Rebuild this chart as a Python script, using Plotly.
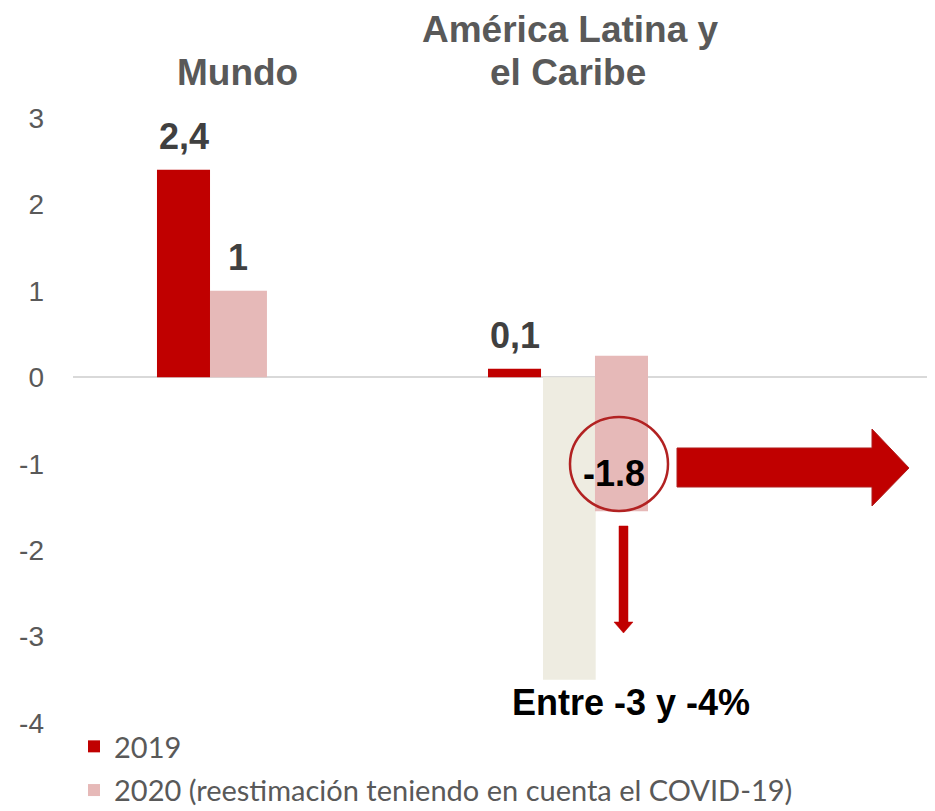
import plotly.graph_objects as go

# ---------------- data ----------------
categories = ["Mundo", "América Latina y el Caribe"]
header_lines = [["Mundo"], ["América Latina y", "el Caribe"]]
series_names = ["2019", "2020 (reestimación teniendo en cuenta el COVID-19)"]
values_2019 = [2.4, 0.1]
values_2020 = [1.0, -1.8]
base_2020 = [0.0, 0.25]
range_category = ["América Latina y el Caribe"]
range_value = [-3.5]
range_label = "Entre -3 y -4%"
y_ticks = [3, 2, 1, 0, -1, -2, -3, -4]

# ---------------- style / layout ----------------
OFF = 8                      # default page (body) margin of the html page
PAGE_W, PAGE_H = 935, 811
PLOT_L, PLOT_R, PLOT_T, PLOT_B = 73, 935, 118, 723   # plot area in page pixels
W, H = PAGE_W - OFF, PAGE_H - OFF
ML, MT = PLOT_L - OFF, PLOT_T - OFF
MR, MB = W - (PLOT_R - OFF), H - (PLOT_B - OFF)
PW, PH = PLOT_R - PLOT_L, PLOT_B - PLOT_T
XR = [-0.3904, -0.3904 + PW / 356.0]
YR = [-4, 3]

RED = "#C00000"
PINK = "#E6B9B8"
BEIGE = "#EEECE1"
FONT = "Arial, Liberation Sans, sans-serif"

off_2019, w_2019 = [-0.1545, -0.2247], [0.149, 0.149]
off_2020, w_2020 = [-0.0056, 0.0758], [0.160, 0.149]
off_rng, w_rng = [-0.0702], [0.148]


def px(x, y):
    """page pixel -> paper coordinates"""
    return (x - PLOT_L) / PW, (PLOT_B - y) / PH


def fmt_comma(v):
    return f"{v:g}".replace(".", ",")


fig = go.Figure()
fig.add_trace(go.Bar(
    x=categories, y=values_2019, name=series_names[0],
    marker=dict(color=RED, line=dict(width=0)),
    offset=off_2019, width=w_2019, legendgroup="a",
))
fig.add_trace(go.Bar(
    x=range_category, y=range_value, name="rango",
    marker=dict(color=BEIGE, line=dict(width=0)),
    offset=off_rng, width=w_rng, showlegend=False,
))
fig.add_trace(go.Bar(
    x=categories, y=values_2020, base=base_2020, name=series_names[1],
    marker=dict(color=PINK, line=dict(width=0)),
    offset=off_2020, width=w_2020, legendgroup="b",
))

annotations = []
lab_style = dict(size=36, color="#404040", family=FONT)
for i in range(len(categories)):
    xc = i + off_2019[i] + w_2019[i] / 2
    annotations.append(dict(x=xc, y=values_2019[i], xref="x", yref="y",
                            text=f"<b>{fmt_comma(values_2019[i])}</b>",
                            showarrow=False, xanchor="center", yanchor="bottom",
                            yshift=11, font=lab_style))
xc = 0 + off_2020[0] + w_2020[0] / 2
annotations.append(dict(x=xc, y=values_2020[0], xref="x", yref="y",
                        text=f"<b>{fmt_comma(values_2020[0])}</b>",
                        showarrow=False, xanchor="center", yanchor="bottom",
                        yshift=11, font=lab_style))
cx, cy = px(614, 473)
annotations.append(dict(x=cx, y=cy, xref="paper", yref="paper",
                        text=f"<b>{values_2020[1]:.1f}</b>", showarrow=False,
                        xanchor="center", yanchor="middle",
                        font=dict(size=36, color="#000000", family=FONT)))
rx, ry = px(631, 702)
annotations.append(dict(x=rx, y=ry, xref="paper", yref="paper",
                        text=f"<b>{range_label}</b>", showarrow=False,
                        xanchor="center", yanchor="middle",
                        font=dict(size=36, color="#000000", family=FONT)))
hdr_font = dict(size=37, color="#595959", family=FONT)
hdr_pos = [[(237, 72)], [(570, 30), (568, 72)]]
for lines, poss in zip(header_lines, hdr_pos):
    for t, (hx, hy) in zip(lines, poss):
        ax_, ay_ = px(hx, hy)
        annotations.append(dict(x=ax_, y=ay_, xref="paper", yref="paper",
                                text=f"<b>{t}</b>", showarrow=False,
                                xanchor="center", yanchor="middle",
                                font=hdr_font))

shapes = []
pts = [(677, 448), (872, 448), (872, 429), (909, 468), (872, 506), (872, 487), (677, 487)]
path = "M " + " L ".join(f"{px(a, b)[0]:.5f},{px(a, b)[1]:.5f}" for a, b in pts) + " Z"
shapes.append(dict(type="path", path=path, xref="paper", yref="paper",
                   fillcolor=RED, line=dict(color="#B01E1E", width=1)))
pts = [(619, 526), (628, 526), (628, 622), (633, 622), (623.5, 633), (614, 622), (619, 622)]
path = "M " + " L ".join(f"{px(a, b)[0]:.5f},{px(a, b)[1]:.5f}" for a, b in pts) + " Z"
shapes.append(dict(type="path", path=path, xref="paper", yref="paper",
                   fillcolor=RED, line=dict(color=RED, width=0.5)))
x0, y0 = px(570, 511)
x1, y1 = px(668, 417)
shapes.append(dict(type="circle", xref="paper", yref="paper",
                   x0=x0, y0=y0, x1=x1, y1=y1,
                   line=dict(color="#B22222", width=2.5)))

lx, ly = px(74, 721)
fig.update_layout(
    width=W, height=H,
    margin=dict(l=ML, r=MR, t=MT, b=MB, autoexpand=False),
    paper_bgcolor="white", plot_bgcolor="white",
    barmode="overlay",
    showlegend=True,
    legend=dict(x=lx, y=ly, xanchor="left", yanchor="top",
                orientation="v", tracegroupgap=3,
                font=dict(size=29, color="#595959", family="Lato, sans-serif"),
                bgcolor="rgba(0,0,0,0)"),
    xaxis=dict(type="category", categoryorder="array", categoryarray=categories,
               range=XR, showticklabels=False, showgrid=False, zeroline=False,
               showline=False, ticks=""),
    yaxis=dict(range=YR, tickvals=y_ticks, ticktext=[str(t) for t in y_ticks],
               showgrid=False, zeroline=True, zerolinecolor="#D9D9D9", zerolinewidth=2,
               showline=False, ticks="", ticklabelstandoff=28,
               tickfont=dict(size=28, color="#595959", family=FONT)),
    annotations=annotations,
    shapes=shapes,
)

fig.write_html("out.html")
